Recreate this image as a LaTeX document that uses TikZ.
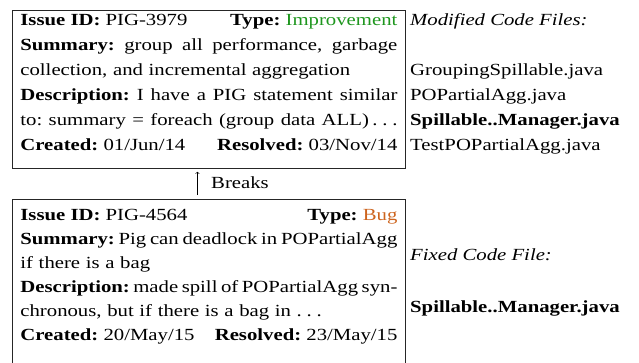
\documentclass[tikz,border=0pt]{standalone}
\usepackage{fontspec}
\setmainfont{Liberation Serif}[FakeStretch=1.22]
\usepackage{xcolor}
\usetikzlibrary{arrows,positioning,calc}
\definecolor{impgreen}{RGB}{30,150,30}
\definecolor{bugorange}{RGB}{205,100,30}
\setlength{\parindent}{0pt}
\newcommand{\fullline}[1]{\makebox[377pt][s]{\frenchspacing\spaceskip=0pt\xspaceskip=0pt #1}}
\newcommand{\topstrut}[1]{\rule{0pt}{#1}}
\newcommand{\botstrut}[1]{\rule[-#1]{0pt}{#1}}
\newcommand{\spdots}{.\kern.28em.\kern.28em.}

\begin{document}
\begin{tikzpicture}[x=1pt,y=1pt,
    issuebox/.style={draw=black!85, line width=0.8pt, anchor=north west, text width=377pt,
        inner xsep=8pt, inner ysep=0pt, align=left},
    filetext/.style={anchor=base west, inner sep=0pt, font=\fontsize{17}{20}\selectfont}]
    \useasboundingbox (0,0) rectangle (639,-362);
    \node[issuebox, font=\fontsize{17}{25}\selectfont] (issueA) at (12,-10) {%
        \topstrut{15pt}\fullline{\textbf{Issue ID:} PIG-3979\hfill\textbf{Type:} \textcolor{impgreen}{Improvement}}\\
        \fullline{\textbf{Summary:} group all performance, garbage}\\
        collection, and incremental aggregation\\
        \fullline{\textbf{Description:} I have a PIG statement similar}\\
        \fullline{to: summary = foreach (group data ALL)\kern.2em\spdots}\\
        \botstrut{18pt}\fullline{\textbf{Created:} 01/Jun/14\hfill\textbf{Resolved:} 03/Nov/14}};
    \node[issuebox, font=\fontsize{17}{24}\selectfont] (issueB) at (12,-199) {%
        \topstrut{21pt}\fullline{\textbf{Issue ID:} PIG-4564\hfill\textbf{Type:} \textcolor{bugorange}{Bug}}\\
        \fullline{\textbf{Summary:} Pig can deadlock in POPartialAgg}\\
        if there is a bag\\
        \fullline{\textbf{Description:} made spill of POPartialAgg syn-}\\
        chronous, but if there is a bag in \spdots\\
        \botstrut{25pt}\fullline{\textbf{Created:} 20/May/15\hfill\textbf{Resolved:} 23/May/15}};
    \draw[->, line width=0.6pt] ([xshift=-11.5pt, yshift=4pt]issueB.north) -- ([xshift=-11.5pt, yshift=-3pt]issueA.south);
    \node[filetext] (brk) at (211,-188) {Breaks};

    \node[filetext] (modHead) at (410,-25) {\textit{Modified Code Files:}};
    \node[filetext] (modA) at (410,-75) {GroupingSpillable.java};
    \node[filetext] (modB) at (410,-100) {POPartialAgg.java};
    \node[filetext] (modC) at (410,-125) {\textbf{Spillable..Manager.java}};
    \node[filetext] (modD) at (410,-150) {TestPOPartialAgg.java};

    \node[filetext] (fixHead) at (410,-260) {\textit{Fixed Code File:}};
    \node[filetext] (fixFile) at (410,-312) {\textbf{Spillable..Manager.java}};
\end{tikzpicture}
\end{document}
